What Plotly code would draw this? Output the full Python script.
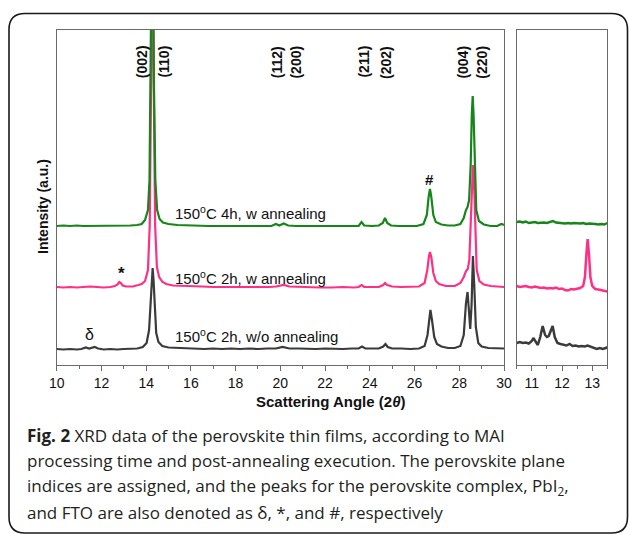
import plotly.graph_objects as go

W, H = 629, 535

# ---------------- data (main panel, 10-30 deg) ----------------
dark_x = [10.0, 10.3, 10.6, 10.9, 11.1, 11.3, 11.45, 11.6, 11.7, 11.85, 12.1, 12.4, 12.7, 13.0, 13.3, 13.6,
          13.85, 14.02, 14.13, 14.2, 14.25, 14.29, 14.33, 14.38, 14.45, 14.55, 14.72, 15.0, 15.4, 15.8, 16.2,
          16.6, 17.0, 17.4, 17.8, 18.2, 18.6, 19.0, 19.4, 19.8, 20.1, 20.4, 20.8, 21.2, 21.6, 22.0, 22.4, 22.8,
          23.2, 23.5, 23.65, 23.8, 24.1, 24.4, 24.6, 24.7, 24.8, 25.0, 25.4, 25.8, 26.2, 26.45, 26.58, 26.66,
          26.71, 26.78, 26.88, 27.0, 27.2, 27.5, 27.8, 28.05, 28.2, 28.3, 28.37, 28.43, 28.49, 28.55, 28.61,
          28.67, 28.74, 28.85, 29.0, 29.3, 29.6, 30.0]
dark_y = [16, 15.5, 16, 15.5, 16, 17.5, 16.5, 17, 18, 16.5, 15.5, 16, 15.5, 16, 16, 16.5,
          18, 22, 35, 65, 90, 97, 85, 55, 32, 23, 19, 17.5, 17, 16.5, 16.5,
          16, 16.5, 16, 16.5, 16, 16.5, 16, 16.5, 16.5, 18, 16.5, 16.5, 16, 16, 16.5, 16, 16,
          16.5, 16.5, 18.5, 16.5, 16.5, 16.5, 18.5, 21, 18, 16.5, 16.5, 16, 16.5, 19, 30, 48,
          55, 45, 28, 21, 18.5, 17, 17, 19, 30, 62, 73, 55, 36, 60, 109,
          80, 38, 22, 18.5, 17, 17, 16.5]

pink_x = [10.0, 10.3, 10.6, 10.9, 11.2, 11.5, 11.8, 12.1, 12.4, 12.6, 12.72, 12.8, 12.87, 12.95, 13.1, 13.4,
          13.65, 13.8, 13.95, 14.08, 14.16, 14.23, 14.28, 14.33, 14.4, 14.48, 14.58, 14.73, 14.9, 15.2, 15.6,
          16.0, 16.5, 17.0, 17.5, 18.0, 18.5, 19.0, 19.5, 19.8, 20.15, 20.4, 20.8, 21.3, 21.8, 22.3, 22.8,
          23.3, 23.5, 23.63, 23.75, 24.1, 24.4, 24.6, 24.68, 24.78, 25.0, 25.4, 25.8, 26.2, 26.45, 26.57,
          26.64, 26.69, 26.75, 26.84, 26.95, 27.1, 27.4, 27.8, 28.05, 28.2, 28.3, 28.38, 28.45, 28.52, 28.57,
          28.61, 28.65, 28.7, 28.78, 28.9, 29.1, 29.4, 29.7, 30.0]
pink_y = [78, 77.5, 78, 77.5, 78, 78.5, 78, 77.5, 78, 79, 80.5, 83, 82, 79.5, 78.5, 78.5,
          80, 81, 84, 95, 140, 300, 420, 300, 140, 98, 88, 83, 81, 79.5, 79,
          78.5, 78.5, 78, 78, 78, 78, 77.5, 78, 78.5, 80, 78.5, 78, 78, 77.5, 77.5, 78,
          77.5, 78, 80, 78, 78, 78, 80, 82, 80, 78.5, 78, 78, 78.5, 82, 95,
          108, 113, 108, 92, 84, 81, 79, 79, 82, 88, 94, 96, 105, 150, 190,
          200, 190, 150, 95, 84, 80.5, 79, 78.5, 78]

green_x = [10.0, 10.3, 10.6, 10.9, 11.2, 11.5, 11.8, 12.1, 12.4, 12.7, 13.0, 13.3, 13.6, 13.8, 13.95, 14.08,
           14.15, 14.21, 14.28, 14.35, 14.41, 14.49, 14.6, 14.75, 15.0, 15.4, 15.8, 16.3, 16.8, 17.3, 17.8,
           18.3, 18.8, 19.3, 19.6, 19.8, 19.95, 20.15, 20.35, 20.7, 21.2, 21.7, 22.2, 22.7, 23.2, 23.5, 23.63,
           23.75, 24.1, 24.4, 24.58, 24.68, 24.78, 24.95, 25.3, 25.7, 26.1, 26.4, 26.55, 26.63, 26.69, 26.75,
           26.84, 26.95, 27.2, 27.5, 27.8, 28.05, 28.2, 28.3, 28.37, 28.44, 28.51, 28.56, 28.6, 28.64, 28.69,
           28.76, 28.88, 29.1, 29.4, 29.7, 29.88, 30.0]
green_y = [139, 139.5, 139, 139.5, 139, 139, 139.5, 139, 139, 139, 139, 139.5, 140, 141, 145, 155,
           185, 280, 500, 280, 185, 155, 146, 142.5, 141, 140, 139.5, 139.5, 139, 139, 139,
           139, 138.5, 139, 139, 141, 139.5, 141.5, 139.5, 139, 139, 138.5, 138.5, 139, 138.5, 139, 143,
           139.5, 139, 139.5, 142, 147, 142, 139.5, 139, 139, 139, 141, 150, 168, 176, 168,
           150, 143, 140.5, 139.5, 139.5, 141, 147, 155, 158, 165, 200, 250, 269, 250, 200,
           155, 144, 140.5, 139, 139, 141, 140]

# ---------------- data (inset panel, 10.5-13.5 deg) ----------------
ins_green_x = [10.5, 10.6, 10.7, 10.8, 10.9, 11.0, 11.1, 11.2, 11.3, 11.4, 11.5, 11.6, 11.7, 11.8, 11.9, 12.0,
               12.1, 12.2, 12.3, 12.4, 12.5, 12.6, 12.7, 12.8, 12.9, 13.0, 13.1, 13.2, 13.3, 13.4, 13.5]
ins_green_y = [143, 143.5, 142.5, 143.5, 142, 142.5, 143, 142, 142.5, 142.5, 142, 143, 144, 142.5, 142, 142,
               141.5, 142, 141.5, 142, 141.5, 141.5, 142, 141, 141.5, 141.5, 141, 140.5, 141, 140.5, 142]

ins_pink_x = [10.5, 10.6, 10.7, 10.8, 10.9, 11.0, 11.1, 11.2, 11.3, 11.4, 11.5, 11.6, 11.7, 11.8, 11.9, 12.0,
              12.1, 12.2, 12.3, 12.4, 12.5, 12.6, 12.7, 12.76, 12.81, 12.85, 12.89, 12.94, 13.0, 13.1, 13.2,
              13.3, 13.4, 13.5]
ins_pink_y = [79, 78, 78.5, 79, 78, 77.5, 78.5, 78, 77, 77.5, 76.5, 77, 76.5, 77.5, 76, 76.5,
              75, 74.5, 76, 75.5, 76, 77, 79, 88, 112, 126, 112, 88, 79, 76, 75.5,
              75, 74, 73.5]

ins_dark_x = [10.5, 10.6, 10.7, 10.8, 10.9, 11.0, 11.05, 11.12, 11.2, 11.28, 11.36, 11.44, 11.5, 11.56, 11.62,
              11.69, 11.76, 11.85, 11.95, 12.05, 12.15, 12.25, 12.35, 12.45, 12.55, 12.65, 12.75, 12.85,
              12.95, 13.05, 13.15, 13.25, 13.35, 13.45, 13.5]
ins_dark_y = [22, 23, 22, 22.5, 21.5, 24, 27, 23, 20, 28, 39, 30, 28, 29, 33,
              39, 28, 22, 21, 20, 19.5, 21, 19, 19.5, 18.5, 19, 18.5, 19.5,
              18.5, 17.5, 16, 17, 16, 17, 18]

series_names = ["150°C 2h, w annealing", "150°C 4h, w annealing", "150°C 2h, w/o annealing"]
series_labels = ["150<sup>o</sup>C 4h, w annealing", "150<sup>o</sup>C 2h, w annealing",
                 "150<sup>o</sup>C 2h, w/o annealing"]
colors = {"pink": "#ff2f86", "green": "#16861a", "dark": "#3b3b3b"}

hkl_labels = ["(002)", "(110)", "(112)", "(200)", "(211)", "(202)", "(004)", "(220)"]
hkl_x = [13.82, 14.78, 19.86, 20.68, 23.72, 24.72, 28.15, 29.0]

caption_lines = [
    "<b>Fig. 2</b> XRD data of the perovskite thin films, according to MAI",
    "processing time and post-annealing execution. The perovskite plane",
    "indices are assigned, and the peaks for the perovskite complex, PbI<sub>2</sub>,",
    "and FTO are also denoted as δ, *, and #, respectively",
]

# ---------------- figure ----------------
def px(x):
    return x / W

def py(y):
    return 1 - y / H

fig = go.Figure()
LW = 2.2
fig.add_trace(go.Scatter(x=pink_x, y=pink_y, mode="lines", line=dict(color=colors["pink"], width=LW),
                         name=series_names[0], xaxis="x", yaxis="y"))
fig.add_trace(go.Scatter(x=green_x, y=green_y, mode="lines", line=dict(color=colors["green"], width=LW),
                         name=series_names[1], xaxis="x", yaxis="y"))
fig.add_trace(go.Scatter(x=dark_x, y=dark_y, mode="lines", line=dict(color=colors["dark"], width=LW),
                         name=series_names[2], xaxis="x", yaxis="y"))
fig.add_trace(go.Scatter(x=ins_green_x, y=ins_green_y, mode="lines", line=dict(color=colors["green"], width=2.5),
                         xaxis="x2", yaxis="y2", showlegend=False))
fig.add_trace(go.Scatter(x=ins_pink_x, y=ins_pink_y, mode="lines", line=dict(color=colors["pink"], width=2.5),
                         xaxis="x2", yaxis="y2", showlegend=False))
fig.add_trace(go.Scatter(x=ins_dark_x, y=ins_dark_y, mode="lines", line=dict(color=colors["dark"], width=2.5),
                         xaxis="x2", yaxis="y2", showlegend=False))

tickfont = dict(family="Liberation Sans, Arial", size=14, color="#111")
frame = "#6a6a6a"
ydom = [py(365), py(29.5)]

axis_common = dict(showline=True, linecolor=frame, linewidth=1, mirror=True, showgrid=False, zeroline=False,
                   ticks="outside", ticklen=5, tickcolor=frame, tickfont=tickfont, automargin=False)

fig.update_layout(
    width=W, height=H, margin=dict(l=0, r=0, t=0, b=0, autoexpand=False),
    paper_bgcolor="white", plot_bgcolor="white", showlegend=False,
    xaxis=dict(domain=[px(56.7), px(504)], range=[10, 30], dtick=2, tick0=10,
               minor=dict(dtick=1, ticks="outside", ticklen=3, tickcolor=frame), **axis_common),
    yaxis=dict(domain=ydom, range=[0, 335.5], showticklabels=False, showline=True, linecolor=frame,
               linewidth=1, mirror=True, showgrid=False, zeroline=False, ticks="", automargin=False),
    xaxis2=dict(domain=[px(516.7), px(607.3)], range=[10.5, 13.5], tickvals=[11, 12, 13], anchor="y2",
                minor=dict(dtick=0.5, ticks="outside", ticklen=3, tickcolor=frame), **axis_common),
    yaxis2=dict(domain=ydom, range=[0, 335.5], anchor="x2", showticklabels=False, showline=True,
                linecolor=frame, linewidth=1, mirror=True, showgrid=False, zeroline=False, ticks="",
                automargin=False),
)

ann = []
txt = dict(family="Liberation Sans, Arial", color="#111")
# hkl labels
for t, xv in zip(hkl_labels, hkl_x):
    ann.append(dict(x=xv, xref="x", y=py(62), yref="paper", text="<b>" + t + "</b>", textangle=-90,
                    showarrow=False, font=dict(size=14, **txt), xanchor="center", yanchor="middle"))
# sample labels
for t, yv in zip(series_labels, [153, 88, 30]):
    ann.append(dict(x=15.21, xref="x", y=yv, yref="y", text=t, showarrow=False, font=dict(size=15, **txt),
                    xanchor="left", yanchor="middle"))
# markers
ann.append(dict(x=12.9, xref="x", y=92, yref="y", text="<b>*</b>", showarrow=False,
                font=dict(size=17, **txt), xanchor="center", yanchor="middle"))
ann.append(dict(x=11.45, xref="x", y=31, yref="y", text="δ", showarrow=False,
                font=dict(size=16, **txt), xanchor="center", yanchor="middle"))
ann.append(dict(x=26.66, xref="x", y=186, yref="y", text="<b>#</b>", showarrow=False,
                font=dict(size=15, **txt), xanchor="center", yanchor="middle"))
# axis titles
ann.append(dict(x=px(331), xref="paper", y=py(401.5), yref="paper", text="<b>Scattering Angle (2<i>θ</i>)</b>",
                showarrow=False, font=dict(size=15, **txt), xanchor="center", yanchor="middle"))
ann.append(dict(x=px(43), xref="paper", y=py(207), yref="paper", text="<b>Intensity (a.u.)</b>", textangle=-90,
                showarrow=False, font=dict(size=14, **txt), xanchor="center", yanchor="middle"))
# caption
for i, t in enumerate(caption_lines):
    ann.append(dict(x=px(25), xref="paper", y=py(435 + i * 25.7), yref="paper", text=t, showarrow=False,
                    xanchor="left", yanchor="middle", align="left",
                    font=dict(family="Open Sans", size=17, color="#231f20")))
fig.update_layout(annotations=ann)

# rounded card border
L, T, R, B, r = 9, 13.5, 627.5, 533, 16
path = (f"M {px(L + r)} {py(T)} H {px(R - r)} Q {px(R)} {py(T)} {px(R)} {py(T + r)} "
        f"V {py(B - r)} Q {px(R)} {py(B)} {px(R - r)} {py(B)} H {px(L + r)} "
        f"Q {px(L)} {py(B)} {px(L)} {py(B - r)} V {py(T + r)} Q {px(L)} {py(T)} {px(L + r)} {py(T)} Z")
fig.add_shape(type="path", path=path, xref="paper", yref="paper", line=dict(color="#1a1a1a", width=1.6))

fig.write_html("out.html", config={"responsive": False, "displayModeBar": False},
               post_script="document.body.style.margin='0';document.body.style.overflow='hidden';")
